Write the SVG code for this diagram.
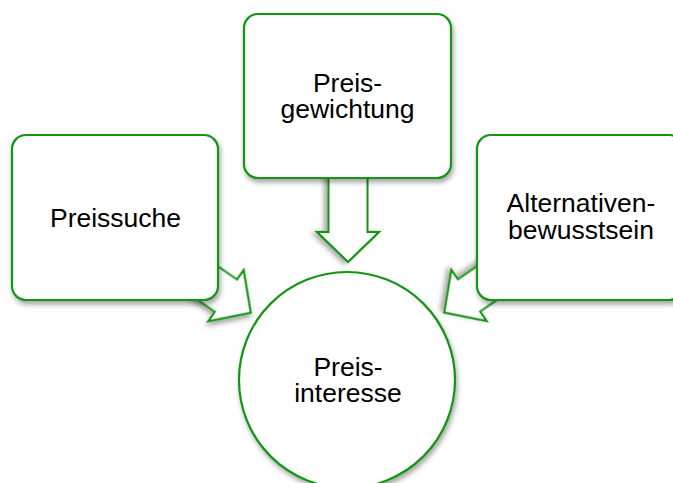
<svg xmlns="http://www.w3.org/2000/svg" width="673" height="483" viewBox="0 0 673 483">
<style>
.shape{fill:#ffffff;stroke:#139413;stroke-width:2.2;filter:url(#sh)}
.lbl{font-family:"Liberation Sans",Arial,sans-serif;font-size:26.5px;fill:#000;text-anchor:middle}
</style>
<defs>
<filter id="sh" x="-20%" y="-20%" width="150%" height="150%">
<feDropShadow dx="1.5" dy="3.5" stdDeviation="2.5" flood-color="#000" flood-opacity="0.35"/>
</filter>
<path id="arr" d="M0,0 L-30,31 L-30,19.5 L-100,19.5 L-100,-19.5 L-30,-19.5 L-30,-31 Z"/>
</defs>
<rect width="673" height="483" fill="#ffffff"/>
<g id="connectors">
<use href="#arr" class="shape" transform="translate(348,262) rotate(90)"/>
<use href="#arr" class="shape" transform="translate(250.7,312.7) rotate(34.6)"/>
<use href="#arr" class="shape" transform="translate(444.3,312.5) rotate(145.4)"/>
</g>
<g id="preissuche">
<rect class="shape" x="12" y="135" width="206" height="165" rx="14"/>
<text class="lbl" x="115.5" y="227">Preissuche</text>
</g>
<g id="preisgewichtung">
<rect class="shape" x="244" y="14" width="207" height="164" rx="14"/>
<text class="lbl" x="347.5" y="92">Preis-</text>
<text class="lbl" x="347.5" y="118">gewichtung</text>
</g>
<g id="alternativenbewusstsein">
<rect class="shape" x="477" y="135" width="206" height="165" rx="14"/>
<text class="lbl" x="581" y="212">Alternativen-</text>
<text class="lbl" x="581" y="239">bewusstsein</text>
</g>
<g id="preisinteresse">
<circle class="shape" cx="347" cy="380" r="108"/>
<text class="lbl" x="348" y="376">Preis-</text>
<text class="lbl" x="348" y="402">interesse</text>
</g>
</svg>
